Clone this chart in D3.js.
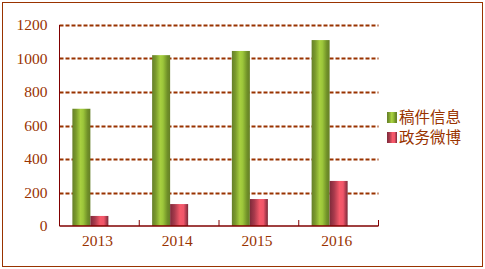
<!DOCTYPE html>
<html><head><meta charset="utf-8">
<script src="https://cdn.jsdelivr.net/npm/d3@7"></script>
<style>body{margin:0;background:#fff}svg{display:block}</style>
</head><body><svg id="c" width="485" height="269"></svg>
<script>
const categories = ["2013","2014","2015","2016"];
const seriesNames = ["稿件信息","政务微博"];
const seriesA = [700, 1020, 1045, 1110];
const seriesB = [60, 131, 161, 269];
const yTicks = [0,200,400,600,800,1000,1200];

const svg = d3.select("#c");
const brown = "#993300";
const axisColor = "#800000";
const L = 59.5, R = 378.5, T = 25, B = 226;

const defs = svg.append("defs");
function grad(id, stops){
  const g = defs.append("linearGradient").attr("id", id).attr("x1","0").attr("x2","1").attr("y1","0").attr("y2","0");
  stops.forEach(s => g.append("stop").attr("offset", s[0]).attr("stop-color", s[1]));
}
grad("gA", [[0,"#667f2a"],[0.2,"#7a9a2c"],[0.45,"#a8d040"],[0.6,"#9cc63a"],[0.85,"#6f8f28"],[1,"#657f27"]]);
grad("gB", [[0,"#7e2a3a"],[0.25,"#a83a4c"],[0.55,"#f65a6a"],[0.75,"#f0566a"],[0.9,"#a83a4c"],[1,"#7a2a38"]]);

// outer border
svg.append("rect").attr("x",2.5).attr("y",2.5).attr("width",480).attr("height",264)
  .attr("fill","none").attr("stroke",brown).attr("stroke-width",1);

const y = d3.scaleLinear().domain([0,1200]).range([B,T]);
const x0 = d3.scaleBand().domain(categories).range([L,R]).paddingInner(0).paddingOuter(0);
// three slots per category (third empty), matching the original layout
const x1 = d3.scaleBand().domain(["a","b","c"]).range([0,x0.bandwidth()]).paddingOuter(0.715).paddingInner(0);

// gridlines
svg.append("g").selectAll("line").data(yTicks.filter(d=>d>0)).join("line")
  .attr("x1",L).attr("x2",R).attr("y1",d=>Math.round(y(d))+0.5).attr("y2",d=>Math.round(y(d))+0.5)
  .attr("stroke",brown).attr("stroke-width",2).attr("stroke-dasharray","4,2");

// bars
const g = svg.append("g");
categories.forEach((c,i)=>{
  g.append("rect").attr("x",x0(c)+x1("a")).attr("width",x1.bandwidth())
    .attr("y",y(seriesA[i])).attr("height",B-y(seriesA[i])).attr("fill","url(#gA)");
  g.append("rect").attr("x",x0(c)+x1("b")).attr("width",x1.bandwidth())
    .attr("y",y(seriesB[i])).attr("height",B-y(seriesB[i])).attr("fill","url(#gB)");
});

// y axis
const yAxis = svg.append("g").attr("transform",`translate(${L},0)`)
  .call(d3.axisLeft(y).tickValues(yTicks).tickFormat(d3.format("d")).tickSize(0).tickPadding(12));
yAxis.select(".domain").attr("stroke",axisColor).attr("d",`M0,${T}V${B}`);
yAxis.selectAll("text").attr("fill",brown).style("font-family","Liberation Serif, DejaVu Serif, serif").style("font-size","15.5px");

// x axis
const xAxis = svg.append("g").attr("transform",`translate(0,${B})`)
  .call(d3.axisBottom(x0).tickSize(0).tickPadding(9));
xAxis.select(".domain").attr("stroke",axisColor).attr("stroke-width",1.5).attr("d",`M${L},0H${R}`);
xAxis.selectAll("text").attr("fill",brown).attr("dx",-2).style("font-family","Liberation Serif, DejaVu Serif, serif").style("font-size","15.5px");
// boundary ticks pointing up
svg.append("g").selectAll("line").data(categories.slice(1).concat(["end"])).join("line")
  .attr("x1",d=> d==="end" ? R : x0(d)).attr("x2",d=> d==="end" ? R : x0(d))
  .attr("y1",B).attr("y2",B-6).attr("stroke",axisColor).attr("stroke-width",1);

// legend
const lg = svg.append("g").attr("transform","translate(387,112)");
seriesNames.forEach((n,i)=>{
  lg.append("rect").attr("x",0).attr("y",i*20).attr("width",10).attr("height",11).attr("fill",i===0?"url(#gA)":"url(#gB)");
  lg.append("text").attr("x",12).attr("y",i*20+11).text(n).attr("fill",brown)
    .style("font-family","Noto Sans CJK SC, sans-serif").style("font-size","15.5px");
});
</script></body></html>
